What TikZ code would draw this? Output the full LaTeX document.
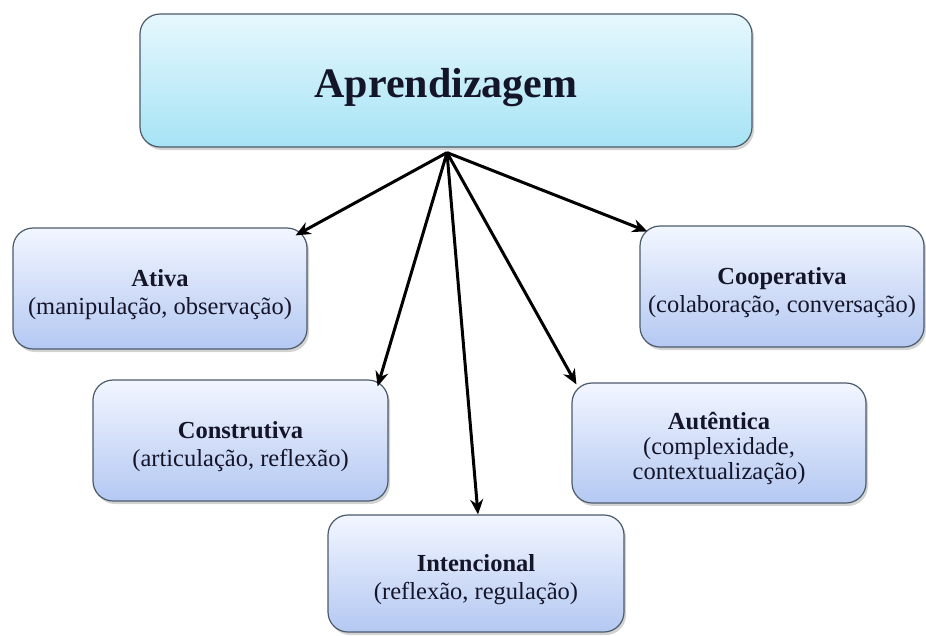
\documentclass[tikz,border=0pt]{standalone}
\usepackage{fontspec}
\setmainfont{Liberation Serif}
\usetikzlibrary{shadows,arrows.meta}
\definecolor{bordc}{HTML}{4A5A6A}
\definecolor{txtc}{HTML}{15152A}
\definecolor{toptop}{HTML}{E6F8FD}
\definecolor{topbot}{HTML}{A6E3F5}
\definecolor{subtop}{HTML}{F2F6FF}
\definecolor{subbot}{HTML}{B4C8F2}
\newcommand{\hstrut}{\rule{0pt}{29pt}}
\tikzset{
  mainbox/.style={draw=bordc, line width=1.2pt, rounded corners=20pt,
    top color=toptop, bottom color=topbot, text=txtc,
    drop shadow={shadow xshift=2pt, shadow yshift=-3pt, opacity=0.35},
    font=\fontsize{42}{50}\selectfont\bfseries, text height=42pt, text depth=9pt},
  subbox/.style={draw=bordc, line width=1.2pt, rounded corners=20pt,
    top color=subtop, bottom color=subbot, text=txtc, align=center,
    drop shadow={shadow xshift=2pt, shadow yshift=-3pt, opacity=0.35},
    font=\fontsize{24.5}{28}\selectfont, inner sep=0pt},
  arr/.style={line width=3pt, draw=black, -{Stealth[length=15pt,width=13pt]}}
}
\begin{document}
\begin{tikzpicture}[x=1pt,y=-1pt]
\useasboundingbox (0,0) rectangle (926,635);
\node[mainbox, minimum width=612pt, minimum height=133pt] (top) at (446,80.5) {Aprendizagem};
\node[subbox, minimum width=294pt, minimum height=121pt] (ativa) at (160,288.5)
  {\hstrut\textbf{Ativa}\\(manipulação, observação)};
\node[subbox, minimum width=295pt, minimum height=121pt] (constr) at (240.5,440.5)
  {\hstrut\textbf{Construtiva}\\(articulação, reflexão)};
\node[subbox, minimum width=296pt, minimum height=117pt] (intenc) at (476,573.5)
  {\hstrut\textbf{Intencional}\\(reflexão, regulação)};
\node[subbox, minimum width=294pt, minimum height=120pt, font=\fontsize{24.5}{25}\selectfont] (autent) at (719,443)
  {\hstrut\textbf{Autêntica}\\(complexidade,\\contextualização)};
\node[subbox, minimum width=284pt, minimum height=121pt] (coop) at (782,286.5)
  {\hstrut\textbf{Cooperativa}\\(colaboração, conversação)};
\coordinate (src) at ([xshift=1pt,yshift=-5pt]top.south);
\draw[arr] (src) -- ([xshift=-12pt,yshift=-8pt]ativa.north east);
\draw[arr] (src) -- ([xshift=-11pt,yshift=-7pt]constr.north east);
\draw[arr] (src) -- ([xshift=2pt]intenc.north);
\draw[arr] (src) -- ([xshift=5pt,yshift=-2pt]autent.north west);
\draw[arr] (src) -- ([xshift=8pt,yshift=-6pt]coop.north west);
\end{tikzpicture}
\end{document}
